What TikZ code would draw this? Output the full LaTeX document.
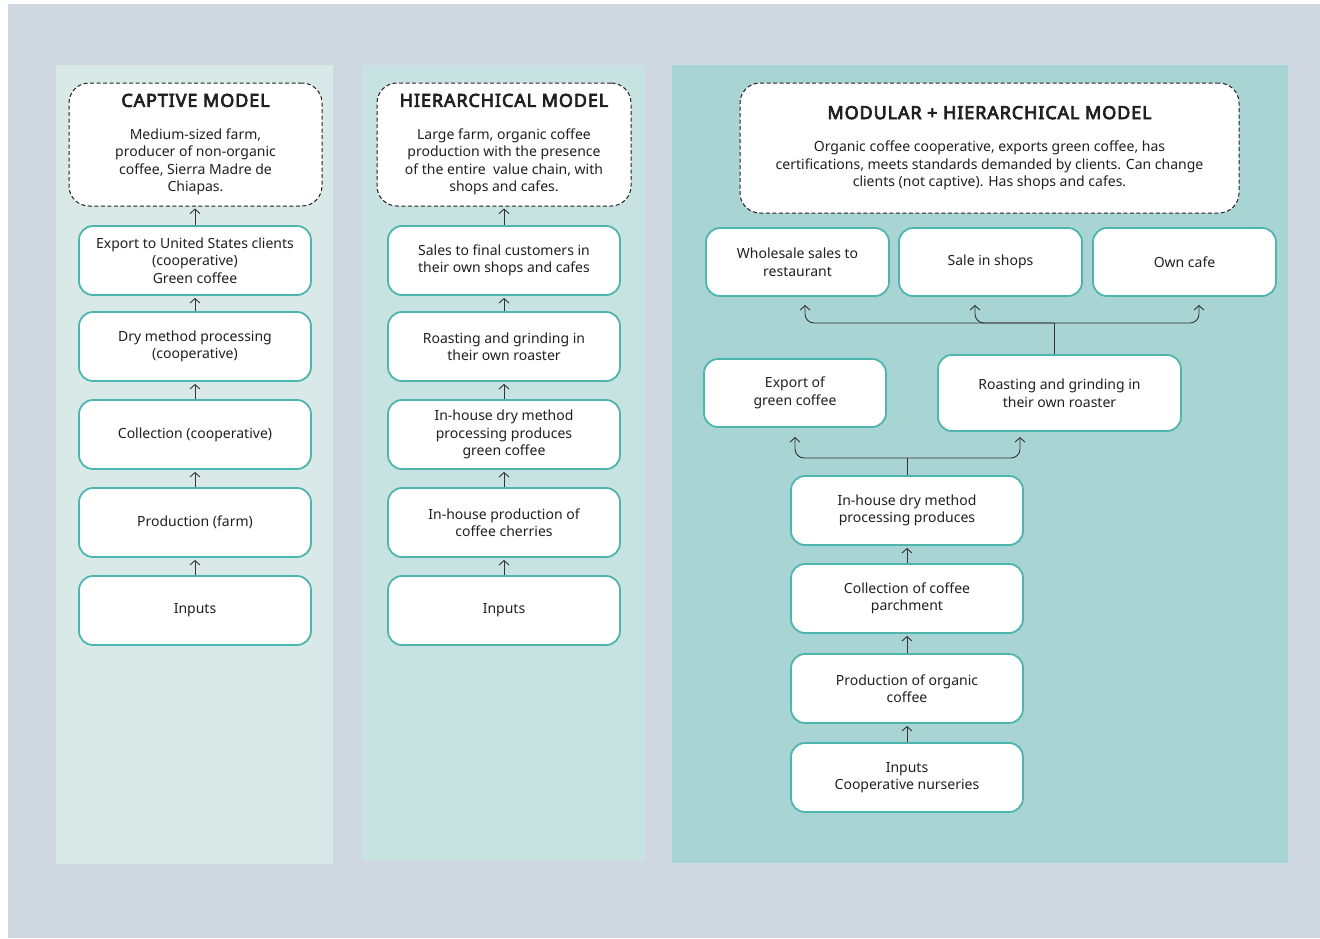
\documentclass[tikz,border=0pt]{standalone}
\usepackage{fontspec}
\setmainfont{Noto Sans}
\newfontfamily\ttlf{Noto Sans}[FakeBold=4, LetterSpace=5]
\usetikzlibrary{arrows.meta}
\definecolor{bgc}{HTML}{CFD8E0}
\definecolor{pa}{HTML}{D9E9E8}
\definecolor{pb}{HTML}{C6E2E1}
\definecolor{pc}{HTML}{A8D5D3}
\definecolor{tealb}{HTML}{4DB5AE}
\definecolor{txt}{HTML}{231F20}
\definecolor{lnc}{HTML}{333333}
\tikzset{
  box/.style={draw=tealb, line width=1.8pt, fill=white, rounded corners=14pt, align=center,
    text=txt, font=\fontsize{14}{17.5}\selectfont, inner sep=2pt},
  hdr/.style={draw=txt, dash pattern=on 4pt off 2.5pt, line width=1pt, fill=white, rounded corners=20pt,
    align=center, text=txt, font=\fontsize{14}{17.5}\selectfont, inner sep=2pt},
  arr/.style={-{Straight Barb[length=4.5pt,width=10pt]}, line width=0.9pt, draw=lnc, shorten >=2pt},
  brn/.style={arr, rounded corners=9pt},
}
\newcommand{\ttl}[1]{{\ttlf\fontsize{18}{20}\selectfont #1}\\[15pt]}
\begin{document}
\begin{tikzpicture}[x=1pt,y=-1pt]
\useasboundingbox (0,0) rectangle (1320,938);
\fill[bgc] (8,4) rectangle (1320,938);
\fill[pa] (56,65) rectangle (333,864);
\fill[pb] (362,65) rectangle (645,861);
\fill[pc] (672,65) rectangle (1288,863);

% Panel 1
\node[hdr, minimum width=253pt, minimum height=123pt] (h1) at (195.5,144.5)
  {\ttl{CAPTIVE MODEL}Medium-sized farm,\\producer of non-organic\\coffee, Sierra Madre de\\Chiapas.};
\node[box, minimum width=232pt, minimum height=69pt] (a1) at (195,260.5) {Export to United States clients\\(cooperative)\\Green coffee};
\node[box, minimum width=232pt, minimum height=69pt] (a2) at (195,346.5) {Dry method processing\\(cooperative)};
\node[box, minimum width=232pt, minimum height=69pt] (a3) at (195,434.5) {Collection (cooperative)};
\node[box, minimum width=232pt, minimum height=69pt] (a4) at (195,522.5) {Production (farm)};
\node[box, minimum width=232pt, minimum height=69pt] (a5) at (195,610.5) {Inputs};
\draw[arr] (a1.north) -- (a1.north |- h1.south);
\draw[arr] (a2.north) -- (a1.south);
\draw[arr] (a3.north) -- (a2.south);
\draw[arr] (a4.north) -- (a3.south);
\draw[arr] (a5.north) -- (a4.south);

% Panel 2
\node[hdr, minimum width=254pt, minimum height=123pt] (h2) at (504,144.5)
  {\ttl{HIERARCHICAL MODEL}Large farm, organic coffee\\production with the presence\\of the entire\ \ value chain, with\\shops and cafes.};
\node[box, minimum width=232pt, minimum height=69pt] (b1) at (504,260.5) {Sales to final customers in\\their own shops and cafes};
\node[box, minimum width=232pt, minimum height=69pt] (b2) at (504,346.5) {Roasting and grinding in\\their own roaster};
\node[box, minimum width=232pt, minimum height=69pt] (b3) at (504,434.5) {In-house dry method\\processing produces\\green coffee};
\node[box, minimum width=232pt, minimum height=69pt] (b4) at (504,522.5) {In-house production of\\coffee cherries};
\node[box, minimum width=232pt, minimum height=69pt] (b5) at (504,610.5) {Inputs};
\draw[arr] (b1.north) -- (b1.north |- h2.south);
\draw[arr] (b2.north) -- (b1.south);
\draw[arr] (b3.north) -- (b2.south);
\draw[arr] (b4.north) -- (b3.south);
\draw[arr] (b5.north) -- (b4.south);

% Panel 3
\node[hdr, minimum width=499pt, minimum height=130pt] (h3) at (989.5,148)
  {\ttl{MODULAR + HIERARCHICAL MODEL}Organic coffee cooperative, exports green coffee, has\\certifications, meets standards demanded by clients. Can change\\clients (not captive). Has shops and cafes.};
\node[box, minimum width=183pt, minimum height=68pt] (ws) at (797.5,262) {Wholesale sales to\\restaurant};
\node[box, minimum width=183pt, minimum height=68pt] (sh) at (990.5,262) {Sale in shops};
\node[box, minimum width=183pt, minimum height=68pt] (oc) at (1184.5,262) {Own cafe};
\node[box, minimum width=182pt, minimum height=68pt] (ex) at (795,393) {Export of\\green coffee};
\node[box, minimum width=243pt, minimum height=76pt] (ro) at (1059.5,393) {Roasting and grinding in\\their own roaster};
\node[box, minimum width=232pt, minimum height=69pt] (c1) at (907,510.5) {In-house dry method\\processing produces};
\node[box, minimum width=232pt, minimum height=69pt] (c2) at (907,598.5) {Collection of coffee\\parchment};
\node[box, minimum width=232pt, minimum height=69pt] (c3) at (907,688.5) {Production of organic\\coffee};
\node[box, minimum width=232pt, minimum height=69pt] (c4) at (907,777.5) {Inputs\\Cooperative nurseries};

\coordinate (j1) at (1054,323);
\coordinate (t1) at (805,303);
\coordinate (t2) at (975,303);
\coordinate (t3) at (1199,303);
\draw[line width=0.9pt, draw=lnc] (ro.north -| j1) -- (j1);
\draw[brn] (j1) -| (t1);
\draw[brn] (j1) -| (t2);
\draw[brn] (j1) -| (t3);

\coordinate (j2) at (907,458);
\coordinate (t4) at (795,435);
\coordinate (t5) at (1020,435);
\draw[line width=0.9pt, draw=lnc] (c1.north) -- (j2);
\draw[brn] (j2) -| (t4);
\draw[brn] (j2) -| (t5);

\draw[arr] (c2.north) -- (c1.south);
\draw[arr] (c3.north) -- (c2.south);
\draw[arr] (c4.north) -- (c3.south);
\end{tikzpicture}
\end{document}
